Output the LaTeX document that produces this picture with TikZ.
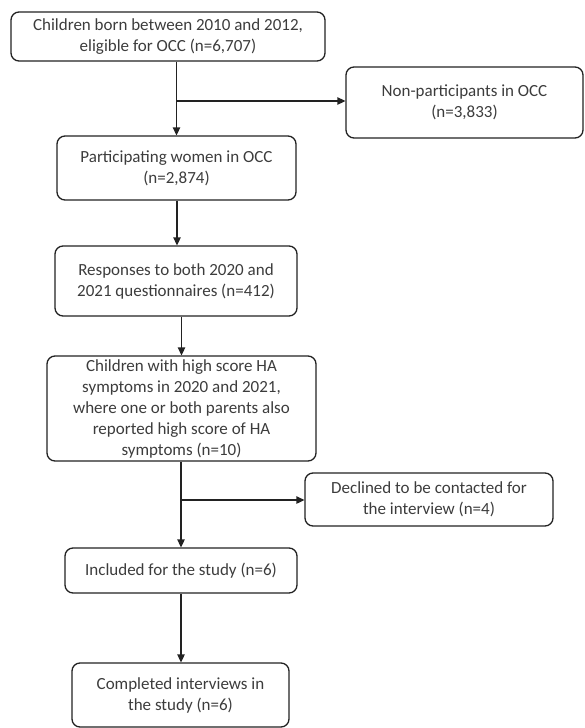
\documentclass[tikz,border=0pt]{standalone}
\usepackage{fontspec}
\setmainfont{Carlito}
\definecolor{boxline}{RGB}{34,34,34}
\definecolor{boxtext}{RGB}{60,60,60}
\usetikzlibrary{arrows.meta,positioning}

\begin{document}
\begin{tikzpicture}[x=1pt, y=-1pt,
        box/.style={draw=boxline, line width=1.3pt, rounded corners=8pt,
                    text=boxtext, font=\fontsize{17}{21}\selectfont, align=center,
                    inner sep=0pt},
        arr/.style={-{Triangle[length=8pt,width=7.5pt]}, boxline, line width=1.3pt}
      ]
        \useasboundingbox (0,0) rectangle (584,728);
        % main column
        \node[box, minimum width=314pt, minimum height=49pt] (born) at (168,36.5)
              {Children born between 2010 and 2012,\\eligible for OCC (n=6,707)};
        \node[box, minimum width=239pt, minimum height=64pt] (women) at (176.5,168)
              {Participating women in OCC\\(n=2,874)};
        \node[box, minimum width=242pt, minimum height=70pt] (resp) at (176,281)
              {Responses to both 2020 and\\2021 questionnaires (n=412)};
        \node[box, minimum width=269pt, minimum height=105pt] (hasym) at (181.5,408.5)
              {Children with high score HA\\symptoms in 2020 and 2021,\\where one or both parents also\\reported high score of HA\\symptoms (n=10)};
        \node[box, minimum width=232pt, minimum height=45pt] (incl) at (181,570.5)
              {Included for the study (n=6)};
        \node[box, minimum width=217pt, minimum height=64pt] (done) at (180.5,695)
              {Completed interviews in\\the study (n=6)};
        % side boxes
        \node[box, minimum width=237pt, minimum height=71pt] (nonpart) at (464.5,102.5)
              {Non-participants in OCC\\(n=3,833)};
        \node[box, minimum width=248pt, minimum height=53pt] (declined) at (429,499.5)
              {Declined to be contacted for\\the interview (n=4)};
        \coordinate (split1) at (177,101);
        \coordinate (split2) at (181,500);
        \draw[arr] (born.south -| women.north) -- (women.north);
        \draw[arr] (split1) -- (split1 -| nonpart.west);
        \draw[arr] (women.south -| split1) -- (resp.north -| split1);
        \draw[arr] (resp.south -| hasym.north) -- (hasym.north);
        \draw[arr] (hasym.south -| split2) -- (incl.north -| split2);
        \draw[arr] (split2) -- (split2 -| declined.west);
        \draw[arr] (incl.south -| split2) -- (done.north -| split2);
      \end{tikzpicture}
\end{document}
